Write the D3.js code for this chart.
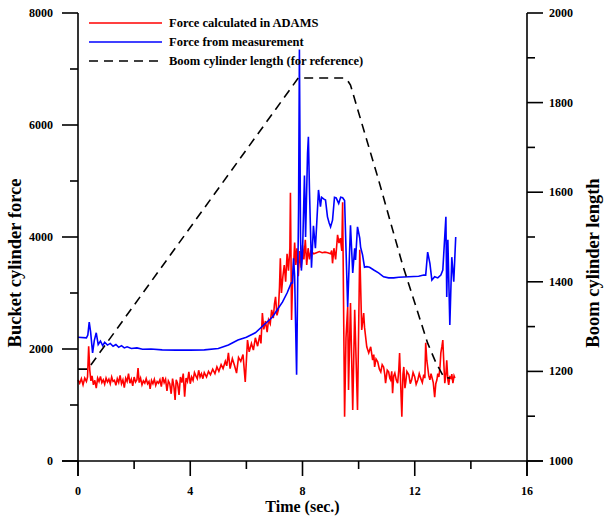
<!DOCTYPE html>
<html lang="en">
<head>
<meta charset="UTF-8">
<title>Bucket cylinder force</title>
<script src="https://d3js.org/d3.v7.min.js"></script>
<style>
  body { margin: 0; background: #fff; }
  text { font-family: "Liberation Serif", "Times New Roman", serif; font-weight: bold; fill: #000; }
</style>
</head>
<body>
<script>
// time (sec.), force
const adamsForce = [
  [0.00,1450],[0.06,1390],[0.12,1470],[0.18,1360],[0.24,1480],[0.30,1420],[0.34,1500],[0.38,2050],[0.42,1620],[0.46,1430],
  [0.50,1520],[0.55,1360],[0.60,1440],[0.65,1300],[0.70,1480],[0.75,1420],[0.80,1510],[0.85,1400],[0.90,1450],[0.95,1370],
  [1.00,1480],[1.05,1410],[1.10,1460],[1.15,1380],[1.20,1500],[1.25,1420],[1.30,1440],[1.35,1350],[1.40,1470],[1.45,1400],
  [1.50,1530],[1.55,1380],[1.60,1450],[1.65,1310],[1.70,1480],[1.75,1420],[1.80,1560],[1.85,1390],[1.90,1460],[1.95,1340],
  [2.00,1500],[2.05,1410],[2.10,1450],[2.14,1660],[2.18,1400],[2.23,1480],[2.28,1360],[2.33,1430],[2.38,1390],[2.43,1470],
  [2.48,1380],[2.53,1420],[2.57,1290],[2.62,1440],[2.67,1380],[2.72,1460],[2.77,1350],[2.82,1420],[2.87,1390],[2.92,1450],
  [2.97,1330],[3.02,1500],[3.07,1400],[3.12,1460],[3.17,1250],[3.22,1430],[3.27,1380],[3.32,1200],[3.37,1470],[3.42,1320],
  [3.46,1090],[3.50,1450],[3.55,1380],[3.60,1180],[3.65,1500],[3.70,1400],[3.75,1560],[3.80,1150],[3.85,1480],[3.90,1420],
  [3.95,1590],[4.00,1380],[4.05,1500],[4.10,1440],[4.15,1580],[4.20,1520],[4.25,1470],[4.30,1620],[4.35,1500],[4.40,1560],
  [4.45,1470],[4.50,1580],[4.58,1500],[4.65,1600],[4.72,1540],[4.80,1640],[4.88,1560],[4.95,1680],[5.02,1600],[5.10,1720],
  [5.17,1650],[5.25,1780],[5.30,1700],[5.36,1930],[5.42,1650],[5.50,1830],[5.58,1700],[5.65,1570],[5.72,1850],[5.80,1780],
  [5.88,1900],[5.96,1410],[6.04,2160],[6.10,1950],[6.18,2100],[6.25,1980],[6.32,2200],[6.40,2050],[6.48,2250],[6.52,2100],
  [6.57,2640],[6.62,2350],[6.68,2500],[6.74,2300],[6.79,2520],[6.85,2450],[6.90,2700],[6.96,2550],[7.00,2800],[7.04,2930],
  [7.09,2600],[7.14,2700],[7.18,3100],[7.21,3620],[7.25,3000],[7.30,3290],[7.35,3500],[7.40,3200],[7.45,3700],[7.50,3400],
  [7.55,3800],[7.57,4790],[7.61,2520],[7.65,3300],[7.68,3470],[7.72,3900],[7.76,3500],[7.80,3800],[7.85,3300],[7.90,3750],
  [7.95,3450],[8.00,3850],[8.05,3600],[8.10,3950],[8.15,3500],[8.20,3800],[8.25,3600],[8.30,3750],[8.40,3700],[8.50,3720],
  [8.60,3740],[8.70,3720],[8.80,3730],[8.90,3720],[9.00,3700],[9.04,3760],[9.07,3530],[9.12,3800],[9.18,3600],[9.25,4040],
  [9.30,3890],[9.35,3980],[9.40,3750],[9.43,4620],[9.50,790],[9.55,2200],[9.61,2750],[9.64,1270],[9.71,2820],[9.79,910],
  [9.86,2700],[9.96,910],[10.04,3770],[10.11,2340],[10.18,2640],[10.21,2390],[10.29,2040],[10.36,1930],[10.43,2040],[10.50,1800],
  [10.54,1900],[10.57,1680],[10.62,1820],[10.68,1770],[10.74,1640],[10.79,1590],[10.84,1720],[10.89,1680],[10.93,1550],[10.96,1390],
  [11.02,1620],[11.07,1590],[11.11,1480],[11.14,1450],[11.18,1600],[11.21,1210],[11.25,1520],[11.29,1570],[11.34,1450],[11.39,1390],
  [11.43,1620],[11.46,1930],[11.50,1350],[11.54,790],[11.58,1550],[11.61,1680],[11.65,1300],[11.68,1410],[11.72,1600],[11.79,1540],
  [11.84,1380],[11.89,1450],[11.94,1580],[12.00,1500],[12.05,1370],[12.11,1450],[12.16,1560],[12.21,1480],[12.27,1400],[12.32,1540],
  [12.36,1480],[12.39,2110],[12.43,1800],[12.46,1680],[12.50,1520],[12.54,1450],[12.58,1560],[12.61,1500],[12.66,1400],[12.71,1140],
  [12.75,1380],[12.79,1450],[12.82,1560],[12.86,1500],[12.90,1680],[12.93,1930],[12.97,2050],[13.00,2160],[13.04,1700],[13.07,1390],
  [13.11,1550],[13.14,1800],[13.18,1450],[13.21,1360],[13.25,1500],[13.29,1480],[13.32,1550],[13.36,1390],[13.40,1520],[13.43,1480]
];

const measuredForce = [
  [0.00,2210],[0.30,2200],[0.35,2250],[0.40,2480],[0.45,2300],[0.52,1930],[0.58,2150],[0.65,2290],[0.72,2080],[0.80,2140],
  [0.88,2060],[0.95,2120],[1.05,2070],[1.15,2100],[1.25,2050],[1.35,2080],[1.45,2030],[1.55,2060],[1.65,2020],[1.75,2040],
  [1.90,2010],[2.10,2020],[2.30,1995],[2.60,2000],[3.00,1985],[3.50,1980],[4.00,1980],[4.50,1985],[5.00,2010],[5.36,2070],
  [5.70,2160],[6.00,2210],[6.32,2290],[6.60,2420],[6.93,2570],[7.10,2700],[7.29,2840],[7.45,3000],[7.60,3180],[7.64,3180],
  [7.68,3620],[7.72,3300],[7.79,1540],[7.86,4500],[7.89,7350],[7.93,4000],[7.96,3400],[8.00,3700],[8.07,5100],[8.11,4000],
  [8.18,5500],[8.21,5790],[8.25,4800],[8.32,3450],[8.39,4200],[8.46,3800],[8.57,4840],[8.64,4540],[8.68,4710],[8.75,4680],
  [8.82,4660],[8.89,4360],[8.95,4250],[9.00,4180],[9.07,4300],[9.14,4710],[9.20,4700],[9.29,4600],[9.36,4710],[9.43,4700],
  [9.50,4650],[9.61,2750],[9.71,4210],[9.79,3360],[9.86,3800],[9.89,3590],[9.96,4180],[10.04,3980],[10.07,3820],[10.14,3680],
  [10.21,3460],[10.29,3470],[10.39,3460],[10.54,3410],[10.71,3360],[10.89,3290],[11.07,3270],[11.25,3270],[11.43,3280],[11.79,3290],
  [12.14,3300],[12.32,3320],[12.39,3320],[12.46,3730],[12.54,3530],[12.61,3230],[12.71,3290],[12.82,3270],[12.93,3320],[13.00,3410],
  [13.11,4360],[13.14,2930],[13.18,3950],[13.25,2430],[13.32,3640],[13.39,3200],[13.46,4000]
];

// time (sec.), boom cylinder length
const boomLength = [
  [0.00,1205],[0.35,1205],[7.85,1855],[9.45,1855],[9.60,1850],[9.71,1839],[10.68,1634],[11.57,1437],
  [12.46,1263],[12.75,1220],[13.04,1187],[13.25,1185]
];

const legendLabels = ["Force calculated in ADAMS", "Force from measurement", "Boom cylinder length (for reference)"];
const xTicks = [0, 4, 8, 12, 16];
const xMinor = [2, 6, 10, 14];
const forceTicks = [0, 2000, 4000, 6000, 8000];
const forceMinor = [1000, 3000, 5000, 7000];
const lengthTicks = [1000, 1200, 1400, 1600, 1800, 2000];
const lengthMinor = [1100, 1300, 1500, 1700, 1900];

const width = 605;
const height = 520;
const plotLeft = 78, plotRight = 527, plotTop = 13, plotBottom = 461;

const svg = d3.select("body").append("svg")
  .attr("width", width)
  .attr("height", height);

const x = d3.scaleLinear().domain([0, 16]).range([plotLeft, plotRight]);
const yForce = d3.scaleLinear().domain([0, 8000]).range([plotBottom, plotTop]);
const yLength = d3.scaleLinear().domain([1000, 2000]).range([plotBottom, plotTop]);

const forceLine = d3.line().x(d => x(d[0])).y(d => yForce(d[1]));
const lengthLine = d3.line().x(d => x(d[0])).y(d => yLength(d[1]));

// series
svg.append("path").datum(adamsForce)
  .attr("d", forceLine)
  .attr("fill", "none").attr("stroke", "#ff0000").attr("stroke-width", 1.6);

svg.append("path").datum(measuredForce)
  .attr("d", forceLine)
  .attr("fill", "none").attr("stroke", "#0000ff").attr("stroke-width", 1.6);

svg.append("path").datum(boomLength)
  .attr("d", lengthLine)
  .attr("fill", "none").attr("stroke", "#000").attr("stroke-width", 1.6)
  .attr("stroke-dasharray", "9,6");

// axes
const axes = svg.append("g").attr("stroke", "#000").attr("stroke-width", 1.6);
axes.append("line").attr("x1", plotLeft - 16).attr("x2", plotRight + 16).attr("y1", plotBottom).attr("y2", plotBottom);
axes.append("line").attr("x1", plotLeft).attr("x2", plotLeft).attr("y1", plotTop).attr("y2", plotBottom + 15);
axes.append("line").attr("x1", plotRight).attr("x2", plotRight).attr("y1", plotTop).attr("y2", plotBottom + 15);

axes.selectAll(".xt").data(xTicks).enter().append("line")
  .attr("x1", d => x(d)).attr("x2", d => x(d)).attr("y1", plotBottom).attr("y2", plotBottom + 15);
axes.selectAll(".xm").data(xMinor).enter().append("line")
  .attr("x1", d => x(d)).attr("x2", d => x(d)).attr("y1", plotBottom).attr("y2", plotBottom + 8);

axes.selectAll(".ft").data(forceTicks).enter().append("line")
  .attr("x1", plotLeft - 16).attr("x2", plotLeft).attr("y1", d => yForce(d)).attr("y2", d => yForce(d));
axes.selectAll(".fm").data(forceMinor).enter().append("line")
  .attr("x1", plotLeft - 8).attr("x2", plotLeft).attr("y1", d => yForce(d)).attr("y2", d => yForce(d));

axes.selectAll(".lt").data(lengthTicks).enter().append("line")
  .attr("x1", plotRight).attr("x2", plotRight + 16).attr("y1", d => yLength(d)).attr("y2", d => yLength(d));
axes.selectAll(".lm").data(lengthMinor).enter().append("line")
  .attr("x1", plotRight).attr("x2", plotRight + 8).attr("y1", d => yLength(d)).attr("y2", d => yLength(d));

// tick labels
svg.selectAll(".xl").data(xTicks).enter().append("text")
  .attr("x", d => x(d)).attr("y", plotBottom + 34)
  .attr("text-anchor", "middle").style("font-size", "12px")
  .text(d => d);

svg.selectAll(".fl").data(forceTicks).enter().append("text")
  .attr("x", plotLeft - 25).attr("y", d => yForce(d) + 4)
  .attr("text-anchor", "end").style("font-size", "12px")
  .text(d => d);

svg.selectAll(".ll").data(lengthTicks).enter().append("text")
  .attr("x", plotRight + 22).attr("y", d => yLength(d) + 4)
  .style("font-size", "12px")
  .text(d => d);

// titles
svg.append("text").attr("x", (plotLeft + plotRight) / 2).attr("y", 512)
  .attr("text-anchor", "middle").style("font-size", "16px").text("Time (sec.)");
svg.append("text").attr("transform", "translate(21,263) rotate(-90)")
  .attr("text-anchor", "middle").style("font-size", "18.5px")
  .text("Bucket cylinder force");
svg.append("text").attr("transform", "translate(599,263) rotate(-90)")
  .attr("text-anchor", "middle").style("font-size", "18.5px")
  .text("Boom cylinder length");

// legend
const legendColors = ["#ff0000", "#0000ff", "#000"];
const legend = svg.append("g");
legend.selectAll("line").data(legendLabels).enter().append("line")
  .attr("x1", 89).attr("x2", 162)
  .attr("y1", (d, i) => 23 + i * 19).attr("y2", (d, i) => 23 + i * 19)
  .attr("stroke", (d, i) => legendColors[i]).attr("stroke-width", 1.6)
  .attr("stroke-dasharray", (d, i) => i === 2 ? "9,6" : null);
legend.selectAll("text").data(legendLabels).enter().append("text")
  .attr("x", 169).attr("y", (d, i) => 27 + i * 19)
  .style("font-size", "12.5px")
  .text(d => d);
</script>
</body>
</html>
